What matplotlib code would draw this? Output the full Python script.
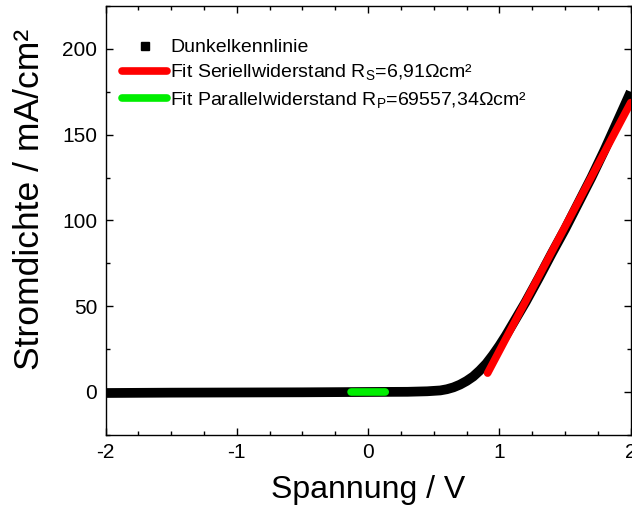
import matplotlib
matplotlib.use("Agg")
from matplotlib import pyplot as plt
from matplotlib.lines import Line2D
from matplotlib.ticker import MultipleLocator

plt.rcParams['font.family'] = ['Liberation Sans', 'DejaVu Sans']
plt.rcParams['mathtext.fontset'] = 'custom'
plt.rcParams['mathtext.rm'] = 'Liberation Sans'
plt.rcParams['axes.unicode_minus'] = False

# dark I-V curve (voltage in V, current density in mA/cm²)
dark_v = [-2.0, -1.5, -1.0, -0.5, 0.0, 0.3, 0.45, 0.55, 0.6, 0.65, 0.7, 0.75,
          0.8, 0.85, 0.9, 0.95, 1.0, 1.05, 1.1, 1.2, 1.3, 1.4, 1.5, 1.6,
          1.7, 1.8, 1.9, 2.0]
dark_j = [-0.6, -0.4, -0.3, -0.2, 0.0, 0.1, 0.4, 0.9, 1.6, 2.7, 4.3, 6.4,
          9.0, 12.5, 16.5, 21.5, 27.0, 33.0, 39.5, 52.5, 66.5, 81.0, 95.0, 110.0,
          125.0, 141.0, 158.0, 175.0]

# series resistance fit
rs = 6.91          # Ohm cm²
rs_v = [0.91, 2.0]
rs_j0 = 11.0       # mA/cm² at the start of the fit line

# parallel resistance fit
rp = 69557.34      # Ohm cm²
rp_v = [-0.13, 0.13]

fig = plt.figure(figsize=(6.32, 5.08), dpi=100)
ax = fig.add_axes([0.167, 0.144, 0.831, 0.844])

ax.plot(dark_v, dark_j, color='black', lw=7, solid_capstyle='butt',
        solid_joinstyle='round', zorder=2)

rs_j = [rs_j0 + (v - rs_v[0]) / rs * 1000 for v in rs_v]
ax.plot(rs_v, rs_j, color='#ff0000', lw=5.5, solid_capstyle='round', zorder=3)

rp_j = [v / rp * 1000 for v in rp_v]
ax.plot(rp_v, rp_j, color='#00ee00', lw=5.5, solid_capstyle='round', zorder=3)

ax.set_xlim(-2, 2)
ax.set_ylim(-25, 225)
ax.xaxis.set_major_locator(MultipleLocator(1))
ax.xaxis.set_minor_locator(MultipleLocator(0.25))
ax.yaxis.set_major_locator(MultipleLocator(50))
ax.yaxis.set_minor_locator(MultipleLocator(25))
ax.tick_params(which='both', direction='in', top=True, right=True, width=1.0)
ax.tick_params(which='major', length=5, labelsize=15, pad=6)
ax.tick_params(which='minor', length=3)
for s in ax.spines.values():
    s.set_linewidth(1.0)

ax.set_xlabel('Spannung / V', fontsize=23, labelpad=9)
ax.set_ylabel('Stromdichte / mA/cm²', fontsize=25.5)
ax.yaxis.set_label_coords(-0.113, 0.548)

handles = [
    Line2D([], [], color='black', marker='s', ls='none', markersize=6),
    Line2D([], [], color='#ff0000', lw=5.5, solid_capstyle='round'),
    Line2D([], [], color='#00ee00', lw=5.5, solid_capstyle='round'),
]
labels = [
    'Dunkelkennlinie',
    r'Fit Seriellwiderstand R$_\mathregular{S}$=6,91Ωcm²',
    r'Fit Parallelwiderstand R$_\mathregular{P}$=69557,34Ωcm²',
]
ax.legend(handles, labels, loc='upper left', frameon=False, fontsize=14,
          handlelength=2.3, handletextpad=0.15, labelspacing=0.35,
          borderaxespad=0.2, bbox_to_anchor=(0.01, 0.951))

fig.savefig('out.png', dpi=100)
